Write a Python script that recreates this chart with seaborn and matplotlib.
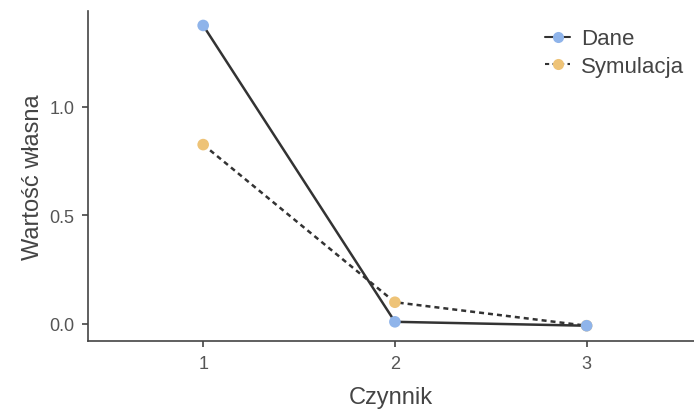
import matplotlib
matplotlib.use("Agg")
import matplotlib.pyplot as plt
from matplotlib.lines import Line2D
import seaborn as sns
import pandas as pd

factors = [1, 2, 3]
dane = [1.373, 0.010, -0.008]
symulacja = [0.825, 0.100, -0.008]
series_names = ["Dane", "Symulacja"]
point_colors = ["#8FB4EA", "#EEC377"]
yticks = [0.0, 0.5, 1.0]

sns.set_theme(style="ticks")
plt.rcParams['font.family'] = ['Liberation Sans', 'DejaVu Sans']

df_d = pd.DataFrame({"Czynnik": factors, "value": dane})
df_s = pd.DataFrame({"Czynnik": factors, "value": symulacja})

fig = plt.figure(figsize=(6.94, 4.10), dpi=100)
ax = fig.add_axes([0.127, 0.166, 0.873, 0.805])

# Symulacja first (underneath), Dane on top
sns.lineplot(data=df_s, x="Czynnik", y="value", color="#333333",
             linewidth=1.8, linestyle=(0, (2, 1.6)), ax=ax, zorder=2)
sns.lineplot(data=df_d, x="Czynnik", y="value", color="#333333",
             linewidth=1.8, ax=ax, zorder=2)
sns.scatterplot(data=df_s, x="Czynnik", y="value", color=point_colors[1],
                s=70, edgecolor="none", ax=ax, zorder=3)
sns.scatterplot(data=df_d, x="Czynnik", y="value", color=point_colors[0],
                s=70, edgecolor="none", ax=ax, zorder=4)

ax.set_xlim(0.40, 3.56)
ax.set_ylim(-0.078, 1.44)
ax.set_xticks(factors)
ax.set_xticklabels([str(f) for f in factors])
ax.set_yticks(yticks)
ax.set_yticklabels([f"{t:.1f}" for t in yticks])
sns.despine(ax=ax)
for sp in ["left", "bottom"]:
    ax.spines[sp].set_color("#444444")
    ax.spines[sp].set_linewidth(1.2)
ax.tick_params(axis="both", colors="#444444", labelcolor="#555555",
               labelsize=13, length=4, width=1.2, pad=6)
ax.set_xlabel("Czynnik", fontsize=17, color="#444444", labelpad=10)
ax.set_ylabel("Wartość własna", fontsize=17, color="#444444", labelpad=4)

handles = [
    Line2D([0], [0], color="#333333", linestyle="-", linewidth=1.5,
           marker="o", markersize=8, markerfacecolor=point_colors[0],
           markeredgecolor="none"),
    Line2D([0], [0], color="#333333", linestyle=(0, (2, 1.6)), linewidth=1.5,
           marker="o", markersize=8, markerfacecolor=point_colors[1],
           markeredgecolor="none"),
]
fig.legend(handles, series_names, loc="upper left",
           bbox_to_anchor=(0.757, 0.977), frameon=False, fontsize=16,
           handlelength=1.1, handletextpad=0.5, labelspacing=0.3,
           labelcolor="#444444")

fig.savefig("out.png", dpi=100)
